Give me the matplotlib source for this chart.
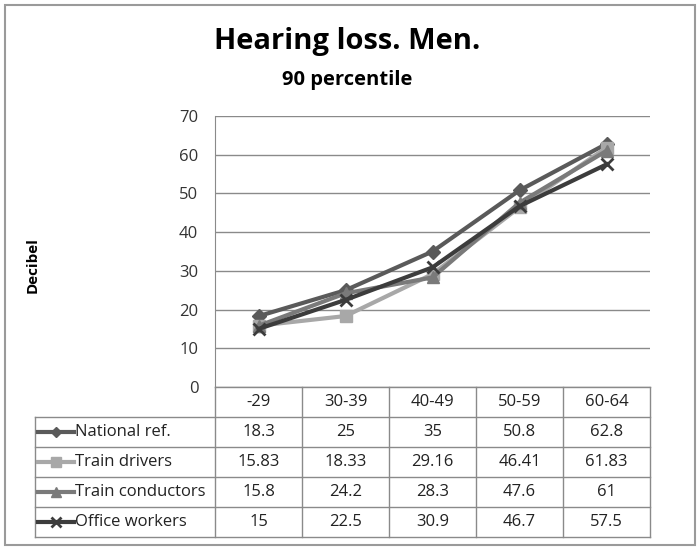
import matplotlib
matplotlib.use("Agg")
import matplotlib.pyplot as plt
from matplotlib.patches import Rectangle
from matplotlib.lines import Line2D

categories = ["-29", "30-39", "40-49", "50-59", "60-64"]
series_names = ["National ref.", "Train drivers", "Train conductors", "Office workers"]
national = [18.3, 25, 35, 50.8, 62.8]
drivers = [15.83, 18.33, 29.16, 46.41, 61.83]
conductors = [15.8, 24.2, 28.3, 47.6, 61]
office = [15, 22.5, 30.9, 46.7, 57.5]
table_text = [
    ["18.3", "25", "35", "50.8", "62.8"],
    ["15.83", "18.33", "29.16", "46.41", "61.83"],
    ["15.8", "24.2", "28.3", "47.6", "61"],
    ["15", "22.5", "30.9", "46.7", "57.5"],
]
yticks = [0, 10, 20, 30, 40, 50, 60, 70]

plt.rcParams['font.family'] = ['Open Sans', 'DejaVu Sans']

W, H = 700, 550
fig = plt.figure(figsize=(7, 5.5), dpi=100)
fig.patch.set_facecolor("white")

# outer border
fig.add_artist(Rectangle((5 / W, 5 / H), 690 / W, 540 / H, transform=fig.transFigure,
                         fill=False, edgecolor="#9a9a9a", linewidth=1.5))

L, R, T, B = 215, 650, 116, 387
TB = 537
ax = fig.add_axes([L / W, 1 - B / H, (R - L) / W, (B - T) / H])
tab = fig.add_axes([L / W, 1 - TB / H, (R - L) / W, (TB - B) / H])

styles = [
    dict(color="#5a5a5a", marker="D", ms=7),
    dict(color="#a8a8a8", marker="s", ms=9),
    dict(color="#7a7a7a", marker="^", ms=9),
    dict(color="#3c3c3c", marker="x", ms=9, mew=2),
]
data = [national, drivers, conductors, office]
x = list(range(len(categories)))
for vals, st in zip(data, styles):
    ax.plot(x, vals, linewidth=3, zorder=3, **st)

ax.set_xlim(-0.5, len(categories) - 0.5)
ax.set_ylim(0, 70)
ax.set_yticks(yticks)
ax.set_xticks([])
ax.grid(axis="y", color="#8a8a8a", linewidth=1)
ax.set_axisbelow(True)
for s in ["top", "right", "bottom"]:
    ax.spines[s].set_visible(False)
ax.spines["left"].set_color("#8a8a8a")
ax.tick_params(axis="y", length=0, labelsize=12, labelcolor="#333333", pad=12)
ax.set_ylabel("Decibel", fontsize=11, fontweight="bold")
ax.yaxis.set_label_coords(-(L - 40) / (R - L), (B - 265) / (B - T))

# table
tab.set_xlim(-0.5, len(categories) - 0.5)
tab.set_ylim(5, 0)
tab.axis("off")
lc = "#8a8a8a"
hdr_left = -(L - 35) / (R - L) * len(categories) - 0.5
for r in range(6):
    x0 = -0.5 if r == 0 else hdr_left
    tab.plot([x0, len(categories) - 0.5], [r, r], color=lc, lw=1, clip_on=False)
for c in range(len(categories) + 1):
    tab.plot([c - 0.5, c - 0.5], [0, 5], color=lc, lw=1, clip_on=False)
tab.plot([hdr_left, hdr_left], [1, 5], color=lc, lw=1, clip_on=False)
fs = 12
for i, cat in enumerate(categories):
    tab.text(i, 0.5, cat, ha="center", va="center", fontsize=fs, color="#222222")
for r, (name, row, st) in enumerate(zip(series_names, table_text, styles)):
    yy = r + 1.5
    for i, t in enumerate(row):
        tab.text(i, yy, t, ha="center", va="center", fontsize=fs, color="#222222")
    kx0 = hdr_left + 0.04
    kx1 = hdr_left + 0.45
    tab.add_line(Line2D([kx0, kx1], [yy, yy], color=st["color"], lw=3, clip_on=False))
    tab.add_line(Line2D([(kx0 + kx1) / 2], [yy], color=st["color"], marker=st["marker"],
                        ms=st["ms"] * 0.8, mew=st.get("mew", 1), clip_on=False))
    tab.text(kx1 + 0.01, yy, name, ha="left", va="center", fontsize=fs, color="#222222")

fig.text(347.5 / W, 1 - 42 / H, "Hearing loss. Men.", ha="center", va="center",
         fontsize=21, fontweight="bold")
fig.text(347.5 / W, 1 - 80 / H, "90 percentile", ha="center", va="center",
         fontsize=14.5, fontweight="bold")

fig.savefig("out.png", dpi=100, facecolor="white")
